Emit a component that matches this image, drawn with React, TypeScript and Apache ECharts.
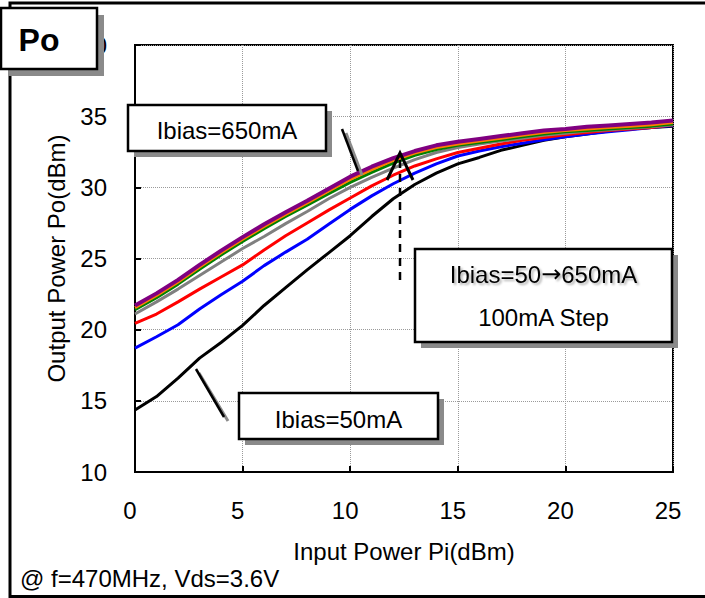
import React, { useEffect, useRef } from "react";
import * as echarts from "echarts";

// ---- Data (Input power Pi in dBm vs output power Po in dBm) ----
const inputPower = [0, 1, 2, 3, 4, 5, 6, 7, 8, 9, 10, 11, 12, 13, 14, 15, 16, 17, 18, 19, 20, 21, 22, 23, 24, 25];

const po50 = [14.35, 15.3, 16.6, 18.0, 19.1, 20.3, 21.7, 22.95, 24.2, 25.4, 26.6, 27.95, 29.2, 30.2, 31.0, 31.65, 32.1, 32.6, 32.95, 33.3, 33.55, 33.75, 33.95, 34.1, 34.2, 34.3];
const po150 = [18.7, 19.5, 20.35, 21.45, 22.45, 23.4, 24.5, 25.45, 26.35, 27.4, 28.45, 29.4, 30.25, 31.0, 31.65, 32.2, 32.55, 32.85, 33.1, 33.35, 33.55, 33.75, 33.9, 34.05, 34.2, 34.35];
const po250 = [20.45, 21.1, 21.95, 22.85, 23.7, 24.55, 25.6, 26.6, 27.5, 28.4, 29.25, 30.1, 30.85, 31.5, 32.0, 32.45, 32.75, 33.05, 33.3, 33.5, 33.7, 33.85, 34.0, 34.1, 34.2, 34.4];
const po350 = [21.1, 21.95, 22.85, 23.8, 24.75, 25.7, 26.55, 27.45, 28.3, 29.2, 30.0, 30.7, 31.35, 31.95, 32.45, 32.8, 33.05, 33.25, 33.45, 33.65, 33.8, 33.95, 34.05, 34.15, 34.25, 34.4];
const po450 = [21.4, 22.25, 23.2, 24.25, 25.25, 26.2, 27.1, 27.95, 28.75, 29.55, 30.35, 31.05, 31.7, 32.25, 32.65, 32.95, 33.15, 33.35, 33.55, 33.75, 33.9, 34.0, 34.1, 34.2, 34.3, 34.45];
const po550 = [21.55, 22.4, 23.35, 24.4, 25.4, 26.35, 27.25, 28.1, 28.9, 29.75, 30.55, 31.25, 31.9, 32.4, 32.8, 33.05, 33.25, 33.45, 33.65, 33.85, 34.0, 34.1, 34.2, 34.3, 34.4, 34.55];
const po650 = [21.7, 22.55, 23.5, 24.55, 25.55, 26.5, 27.4, 28.25, 29.05, 29.9, 30.75, 31.45, 32.05, 32.55, 32.95, 33.2, 33.4, 33.6, 33.8, 34.0, 34.1, 34.25, 34.35, 34.45, 34.55, 34.7];

const seriesNames = ["Ibias=50mA", "Ibias=150mA", "Ibias=250mA", "Ibias=350mA", "Ibias=450mA", "Ibias=550mA", "Ibias=650mA"];
const seriesValues = [po50, po150, po250, po350, po450, po550, po650];
const seriesColors = ["#000000", "#0000FF", "#FF0000", "#808080", "#008000", "#FF7F00", "#800080"];

const xMin = 0, xMax = 25, xStep = 5;
const yMin = 10, yMax = 40, yStep = 5;

const xTitle = "Input Power Pi(dBm)";
const yTitle = "Output Power Po(dBm)";
const badge = "Po";
const note = "@ f=470MHz, Vds=3.6V";
const labelHigh = "Ibias=650mA";
const labelLow = "Ibias=50mA";
const labelRangeA = "Ibias=50";
const labelRangeArrow = "\u2192";
const labelRangeB = "650mA";
const labelRange2 = "100mA Step";

const FONT = "'Liberation Sans', Arial, Helvetica, sans-serif";
const FS = 24;
const SHADOW = "#8a8a8a";

const textShadow = {
  shadowColor: "rgba(0,0,0,0.3)",
  shadowBlur: 2,
  shadowOffsetX: 2,
  shadowOffsetY: 2,
};

function boxWithShadow(x: number, y: number, w: number, h: number, off: number) {
  return [
    { type: "rect", z: 100, shape: { x: x + off, y: y + off, width: w, height: h }, style: { fill: SHADOW } },
    { type: "rect", z: 101, shape: { x, y, width: w, height: h }, style: { fill: "#fff", stroke: "#000", lineWidth: 2.5 } },
  ];
}

function label(text: string, x: number, y: number, size = FS, bold = false) {
  return {
    type: "text",
    z: 102,
    x,
    y,
    style: {
      text,
      fill: "#000",
      fontSize: size,
      fontWeight: bold ? "bold" : "normal",
      fontFamily: FONT,
      align: "center",
      verticalAlign: "middle",
      ...(bold ? {} : textShadow),
    },
  };
}

export default function App() {
  const ref = useRef<HTMLDivElement>(null);

  useEffect(() => {
    if (!ref.current) return;
    const chart = echarts.init(ref.current, null, { renderer: "svg" });

    const series = seriesValues.map((vals, i) => ({
      name: seriesNames[i],
      type: "line",
      data: inputPower.map((x, k) => [x, vals[k]]),
      showSymbol: false,
      symbol: "none",
      z: 3 + i,
      lineStyle: { color: seriesColors[i], width: i === 6 ? 4 : 3 },
      itemStyle: { color: seriesColors[i] },
    }));

    const axisCommon = {
      type: "value",
      nameLocation: "middle",
      nameTextStyle: { fontSize: FS, color: "#000", fontFamily: FONT },
      axisLine: { show: true, lineStyle: { color: "#000", width: 2 } },
      axisTick: { show: true, inside: true, length: 6, lineStyle: { color: "#000", width: 2 } },
      splitLine: { show: true, lineStyle: { type: "dotted", color: "#9a9a9a", width: 1 } },
    };

    const graphic: any[] = [
      // outer frame
      { type: "rect", z: 90, shape: { x: 10, y: 3, width: 712, height: 593.5 }, style: { fill: "none", stroke: "#000", lineWidth: 3 } },
      // Po badge
      ...boxWithShadow(1, 8, 96, 61, 7),
      label(badge, 39, 40, 32, true),
      // 650 mA label
      ...boxWithShadow(128, 105, 198, 46, 6),
      label(labelHigh, 227, 130.5),
      { type: "line", z: 99, shape: { x1: 346, y1: 133, x2: 362, y2: 175 }, style: { stroke: "#8a8a8a", lineWidth: 3 } },
      { type: "line", z: 100, shape: { x1: 342, y1: 129, x2: 358, y2: 171 }, style: { stroke: "#000", lineWidth: 2.5 } },
      // 50 mA label
      ...boxWithShadow(239, 393, 199, 46, 6),
      label(labelLow, 338.5, 419),
      { type: "line", z: 99, shape: { x1: 199, y1: 373, x2: 228, y2: 421 }, style: { stroke: "#8a8a8a", lineWidth: 3 } },
      { type: "line", z: 100, shape: { x1: 196, y1: 369, x2: 224, y2: 417 }, style: { stroke: "#000", lineWidth: 2.5 } },
      // step label
      ...boxWithShadow(415, 249, 257, 93, 6),
      {
        type: "text",
        z: 102,
        x: 543.5,
        y: 274,
        style: {
          text: `{a|${labelRangeA}}{b|${labelRangeArrow}}{a|${labelRangeB}}`,
          align: "center",
          verticalAlign: "middle",
          rich: {
            a: { fontSize: FS, fontFamily: FONT, fill: "#000", color: "#000", textShadowColor: "rgba(0,0,0,0.3)", textShadowBlur: 2, textShadowOffsetX: 2, textShadowOffsetY: 2 },
            b: { fontSize: FS, fontFamily: "'DejaVu Sans', sans-serif", fill: "#000", color: "#000", textShadowColor: "rgba(0,0,0,0.3)", textShadowBlur: 2, textShadowOffsetX: 2, textShadowOffsetY: 2 },
          },
        },
      },
      label(labelRange2, 543.5, 317.5),
      // arrow
      { type: "line", z: 100, shape: { x1: 400, y1: 160, x2: 400, y2: 283 }, style: { stroke: "#000", lineWidth: 2.5, lineDash: [8, 6] } },
      { type: "polyline", z: 100, shape: { points: [[387, 180], [400, 153], [413, 180]] }, style: { stroke: "#000", lineWidth: 3, fill: "none" } },
      // condition note
      {
        type: "text",
        z: 102,
        x: 20,
        y: 578.5,
        style: {
          text: note,
          fill: "#000",
          fontSize: FS,
          fontFamily: FONT,
          align: "left",
          verticalAlign: "middle",
          ...textShadow,
        },
      },
    ];

    chart.setOption({
      animation: false,
      backgroundColor: "#fff",
      textStyle: { fontFamily: FONT },
      grid: {
        left: 135,
        top: 45,
        right: 32,
        bottom: 126,
        show: true,
        borderColor: "#000",
        borderWidth: 2,
        containLabel: false,
        outerBoundsMode: "none",
      },
      xAxis: {
        ...axisCommon,
        min: xMin,
        max: xMax,
        interval: xStep,
        name: xTitle,
        nameGap: 67,
        axisLabel: { fontSize: FS, color: "#000", fontFamily: FONT, margin: 26, padding: [0, 10, 0, 0] },
      },
      yAxis: {
        ...axisCommon,
        min: yMin,
        max: yMax,
        interval: yStep,
        name: yTitle,
        nameGap: 67,
        axisLabel: { fontSize: FS, color: "#000", fontFamily: FONT, margin: 28 },
      },
      series,
      graphic,
    });

    return () => chart.dispose();
  }, []);

  return (
    <div
      ref={ref}
      style={{ position: "fixed", left: 0, top: 0, width: 705, height: 598, background: "#fff" }}
    />
  );
}
